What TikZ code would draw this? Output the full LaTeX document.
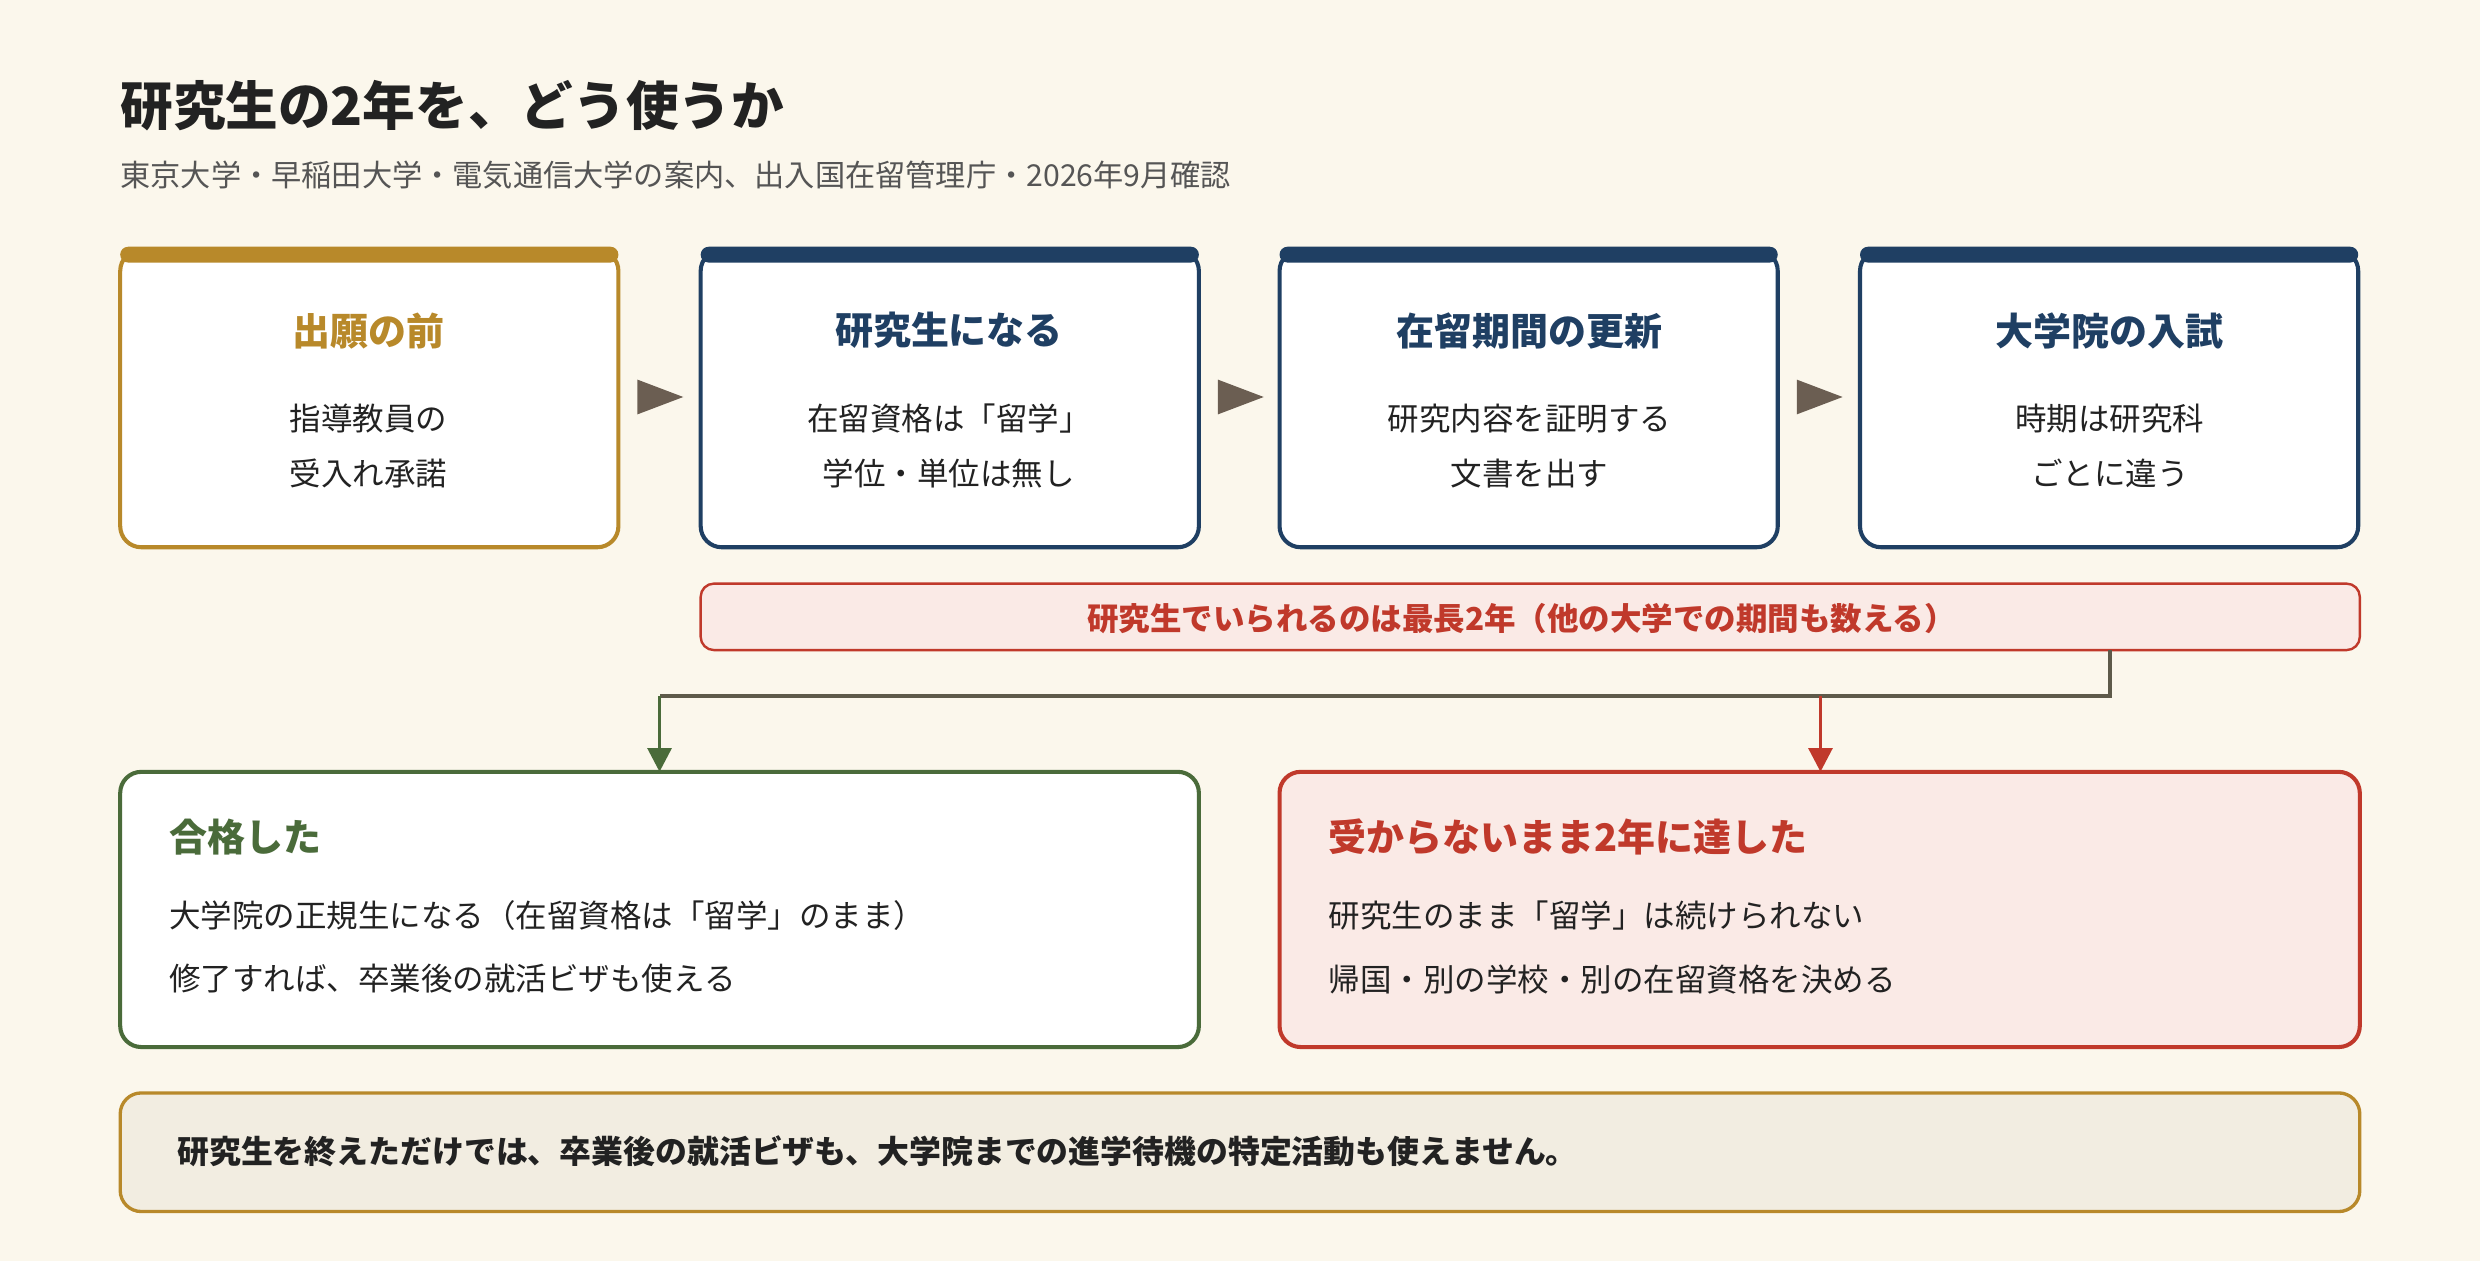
\documentclass[tikz,border=0pt]{standalone}
\usepackage{fontspec}
\setmainfont{Noto Sans CJK JP}
\usetikzlibrary{arrows.meta}
\definecolor{bg}{HTML}{FBF7EC}
\definecolor{gold}{HTML}{B8892A}
\definecolor{navy}{HTML}{1F3F63}
\definecolor{redc}{HTML}{C0392B}
\definecolor{redf}{HTML}{FAEAE6}
\definecolor{grn}{HTML}{4A6B3A}
\definecolor{conn}{HTML}{5E5A4A}
\definecolor{tri}{HTML}{6B5E52}
\definecolor{foot}{HTML}{F2EDE1}
\definecolor{txt}{HTML}{222222}
\definecolor{sub}{HTML}{555555}
\begin{document}
\begin{tikzpicture}[x=0.3mm,y=-0.3mm,
  step/.style={draw=#1,line width=2.2pt,fill=white,rounded corners=4mm},
  stitle/.style={font=\bfseries\fontsize{20.5}{24}\selectfont,text=#1},
  body/.style={font=\fontsize{17}{22}\selectfont,text=txt},
  tri/.style={fill=tri,draw=none}]
\fill[bg] (0,0) rectangle (1568,797);
\useasboundingbox (0,0) rectangle (1568,797);
\node[anchor=west,font=\bfseries\fontsize{28.4}{32}\selectfont,text=txt] (title) at (72,67) {研究生の2年を、どう使うか};
\node[anchor=west,font=\fontsize{16.3}{20}\selectfont,text=sub] (subt) at (72,111) {東京大学・早稲田大学・電気通信大学の案内、出入国在留管理庁・2026年9月確認};
% top boxes
\foreach \x/\c/\n in {76/gold/a,443/navy/b,809/navy/c,1176/navy/d}{
  \draw[step=\c] (\x,158) rectangle (\x+315,346);
  \fill[\c,rounded corners=1.5mm] (\x,156) rectangle (\x+315,166);
  \coordinate (\n) at (\x+157.5,252);
}
\node[stitle=gold] (a1) at (233,209) {出願の前};
\node[body,align=center] (a2) at (233,282) {指導教員の\\[0.45em]受入れ承諾};
\node[stitle=navy] (b1) at (600,209) {研究生になる};
\node[body,align=center] (b2) at (600,282) {在留資格は「留学」\\[0.45em]学位・単位は無し};
\node[stitle=navy] (c1) at (967,209) {在留期間の更新};
\node[body,align=center] (c2) at (967,282) {研究内容を証明する\\[0.45em]文書を出す};
\node[stitle=navy] (d1) at (1334,209) {大学院の入試};
\node[body,align=center] (d2) at (1334,282) {時期は研究科\\[0.45em]ごとに違う};
\foreach \x in {403,770,1136}{\fill[tri] (\x,240) -- (\x+29,251) -- (\x,262) -- cycle;}
% banner
\draw[draw=redc,line width=1.3pt,fill=redf,rounded corners=2.5mm] (443,369) rectangle (1492,411);
\node[font=\bfseries\fontsize{17}{20}\selectfont,text=redc] (ban) at (962,391) {研究生でいられるのは最長2年（他の大学での期間も数える）};
% connectors
\coordinate (s) at (1334,411);
\coordinate (j) at (1334,440);
\coordinate (l) at (417,440);
\coordinate (r) at (1151,440);
\coordinate (g) at (417,488);
\coordinate (rr) at (1151,488);
\draw[conn,line width=2pt] (s) -- (j) -- (l);
\draw[grn,line width=2pt,-{Triangle[length=4.5mm,width=4.5mm]}] (l) -- (g);
\draw[redc,line width=2pt,-{Triangle[length=4.5mm,width=4.5mm]}] (r) -- (rr);
% bottom boxes
\draw[draw=grn,line width=2.2pt,fill=white,rounded corners=4mm] (76,488) rectangle (758,662);
\node[anchor=west,stitle=grn] (g1) at (103,529) {合格した};
\node[anchor=west,body] (g2) at (103,579) {大学院の正規生になる（在留資格は「留学」のまま）};
\node[anchor=west,body] (g3) at (103,619) {修了すれば、卒業後の就活ビザも使える};
\draw[draw=redc,line width=2.2pt,fill=redf,rounded corners=4mm] (809,488) rectangle (1492,662);
\node[anchor=west,stitle=redc] (r1) at (836,529) {受からないまま2年に達した};
\node[anchor=west,body] (r2) at (836,579) {研究生のまま「留学」は続けられない};
\node[anchor=west,body] (r3) at (836,619) {帰国・別の学校・別の在留資格を決める};
% footer
\draw[draw=gold,line width=1.8pt,fill=foot,rounded corners=4mm] (76,691) rectangle (1492,766);
\node[anchor=west,font=\bfseries\fontsize{17.2}{20}\selectfont,text=txt] (ft) at (108,728) {研究生を終えただけでは、卒業後の就活ビザも、大学院までの進学待機の特定活動も使えません。};
\end{tikzpicture}
\end{document}
